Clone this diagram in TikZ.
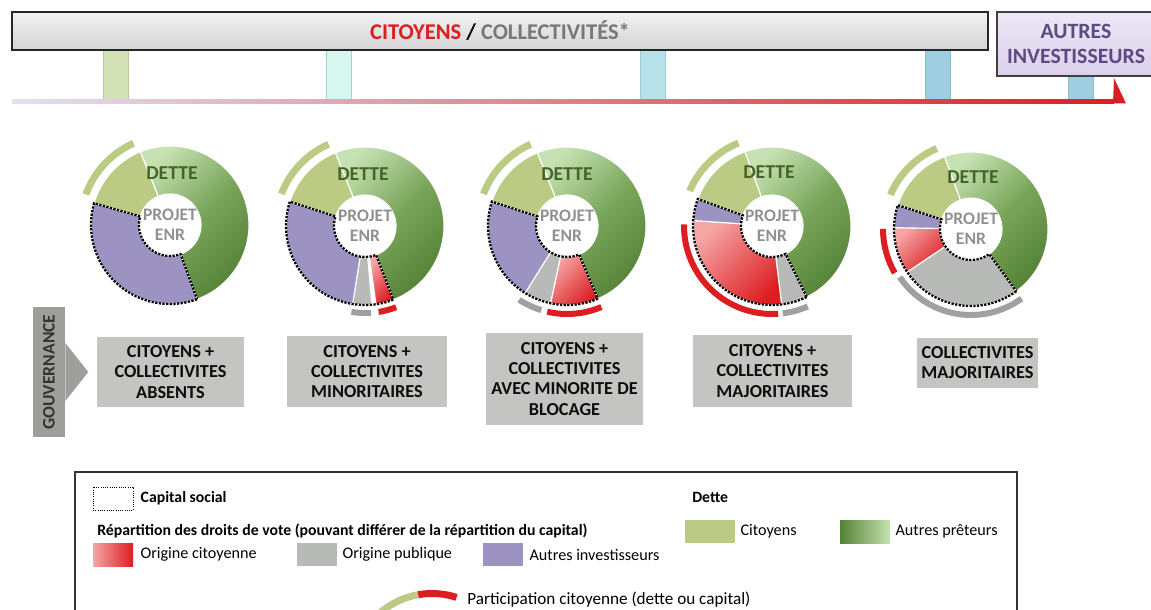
\documentclass[tikz,border=0pt]{standalone}
\usepackage{fontspec}
\setmainfont{Carlito}
\usetikzlibrary{calc,positioning}

\definecolor{debtcit}{RGB}{187,203,132}
\definecolor{debtlight}{RGB}{198,226,178}
\definecolor{debtmid}{RGB}{122,166,92}
\definecolor{debtdark}{RGB}{84,130,54}
\definecolor{invpurple}{RGB}{157,147,195}
\definecolor{pubgrey}{RGB}{183,186,183}
\definecolor{pubdark}{RGB}{160,160,160}
\definecolor{citlight}{RGB}{246,165,165}
\definecolor{citred}{RGB}{220,30,34}
\definecolor{boxgrey}{RGB}{196,197,194}
\definecolor{govgrey}{RGB}{158,158,156}
\definecolor{dettegreen}{RGB}{70,100,40}
\definecolor{projgrey}{RGB}{145,145,145}
\definecolor{invtext}{RGB}{92,74,130}
\definecolor{invfill}{RGB}{218,208,236}
\definecolor{colgrey}{RGB}{120,120,120}
\definecolor{lineleft}{RGB}{225,225,240}

\newcommand{\pxu}{0.025cm}
% ring segment: [style] centre, from, to, inner radius, outer radius
\newcommand{\ringpart}[6][]{%
  \path[#1] ($(#2)+(#3:#6)$) arc[start angle=#3, end angle=#4, radius=#6]
    -- ($(#2)+(#4:#5)$) arc[start angle=#4, end angle=#3, radius=#5] -- cycle;}

\begin{document}
\begin{tikzpicture}[x=0.025cm, y=-0.025cm,
    seg/.style={draw=white, line width=0.8pt},
    othershade/.style={top color=debtlight, bottom color=debtdark, middle color=debtmid, shading angle=45},
    citshade/.style={top color=citlight, bottom color=citred, shading angle=45},
    capline/.style={draw=black, line width=1.6pt, densely dotted},
    dettelabel/.style={font=\bfseries\fontsize{14}{16}\selectfont, text=dettegreen},
    projlabel/.style={font=\bfseries\fontsize{12.5}{14}\selectfont, text=projgrey, align=center, inner sep=0pt},
    govbox/.style={fill=boxgrey, align=center, inner sep=0pt, text=black!95, font=\bfseries\fontsize{13}{14.3}\selectfont},
    govbar/.style={fill=govgrey, text=black!80, inner sep=0pt, font=\bfseries\fontsize{12.5}{14}\selectfont, minimum width=130*\pxu, minimum height=32*\pxu},
    topbar/.style={draw=black!85, line width=1.4pt, top color=black!5, bottom color=black!17, inner sep=0pt, minimum width=976*\pxu, minimum height=38*\pxu, font=\bfseries\fontsize{16}{18}\selectfont},
    invbox/.style={draw=black!75, line width=1.4pt, top color=invfill!50!white, bottom color=invfill, text=invtext, align=center, inner sep=0pt, minimum width=158*\pxu, minimum height=64*\pxu, font=\bfseries\fontsize{15.5}{17.8}\selectfont},
    swatch/.style={minimum width=40*\pxu, minimum height=23*\pxu, inner sep=0pt},
    legtext/.style={inner sep=0pt, font=\fontsize{11.5}{13}\selectfont},
    legbold/.style={inner sep=0pt, font=\bfseries\fontsize{11.2}{13}\selectfont}
]
\useasboundingbox (0,0) rectangle (1151,610);
\clip (0,0) rectangle (1151,610);
\fill[white] (0,0) rectangle (1151,610);

% pillars between the actors and the line
\filldraw[fill={rgb,255:red,212;green,224;blue,182}, draw={rgb,255:red,186;green,202;blue,150}, line width=0.4pt] (103,50) rectangle (128,100);
\filldraw[fill={rgb,255:red,214;green,246;blue,240}, draw={rgb,255:red,166;green,212;blue,204}, line width=0.4pt] (326,50) rectangle (351,100);
\filldraw[fill={rgb,255:red,184;green,226;blue,234}, draw={rgb,255:red,160;green,206;blue,216}, line width=0.4pt] (640,50) rectangle (665,100);
\filldraw[fill={rgb,255:red,158;green,207;blue,224}, draw={rgb,255:red,136;green,188;blue,206}, line width=0.4pt] (925,50) rectangle (950,100);
\filldraw[fill={rgb,255:red,158;green,207;blue,224}, draw={rgb,255:red,136;green,188;blue,206}, line width=0.4pt] (1068,76) rectangle (1093,100);

% actors
\node[topbar] (actors) at (500,31) {{\color{citred}CITOYENS} / {\color{colgrey}COLLECTIVITÉS*}};
\node[invbox] (autres) at (1076,44) {AUTRES\\INVESTISSEURS};

% line with red end
\shade[left color=lineleft, right color=citred] (12,99.5) rectangle (1114,103.5);
\fill[citred] (1113,103.5) -- (1126,103.5) -- (1114,78) -- cycle;

% donut 1
\coordinate (c1) at (170,225);
\ringpart[seg, fill=debtcit]{c1}{196}{248}{31}{79}
\ringpart[seg, othershade]{c1}{248}{430}{31}{79}
\ringpart[seg, fill=invpurple]{c1}{70}{196}{31}{79}
\ringpart[capline]{c1}{70}{196}{31}{79}
\ringpart[fill=debtcit]{c1}{200}{246}{86}{93}
\node[dettelabel] (dette1) at ($(c1)+(2,-52)$) {DETTE};
\node[projlabel] (proj1) at (c1) {PROJET\\ENR};

% donut 2
\coordinate (c2) at (365,226);
\ringpart[seg, fill=debtcit]{c2}{198}{248}{31}{79}
\ringpart[seg, othershade]{c2}{248}{429}{31}{79}
\ringpart[seg, citshade]{c2}{69}{82}{31}{79}
\ringpart[seg, fill=pubgrey]{c2}{85}{99}{31}{79}
\ringpart[seg, fill=invpurple]{c2}{99}{198}{31}{79}
\ringpart[capline]{c2}{69}{198}{31}{79}
\ringpart[fill=debtcit]{c2}{201}{246}{86}{93}
\ringpart[fill=citred]{c2}{69}{81}{84}{90}
\ringpart[fill=pubdark]{c2}{86}{99}{84}{90}
\node[dettelabel] (dette2) at ($(c2)+(-2,-52)$) {DETTE};
\node[projlabel] (proj2) at (c2) {PROJET\\ENR};

% donut 3
\coordinate (c3) at (567,226);
\ringpart[seg, fill=debtcit]{c3}{198}{248}{31}{79}
\ringpart[seg, othershade]{c3}{248}{427}{31}{79}
\ringpart[seg, citshade]{c3}{67}{102}{31}{79}
\ringpart[seg, fill=pubgrey]{c3}{102}{122}{31}{79}
\ringpart[seg, fill=invpurple]{c3}{122}{198}{31}{79}
\ringpart[capline]{c3}{67}{198}{31}{79}
\ringpart[fill=debtcit]{c3}{201}{246}{86}{93}
\ringpart[fill=citred]{c3}{67}{103}{85}{91}
\ringpart[fill=pubdark]{c3}{107}{123}{85}{91}
\node[dettelabel] (dette3) at ($(c3)+(0,-52)$) {DETTE};
\node[projlabel] (proj3) at (c3) {PROJET\\ENR};

% donut 4
\coordinate (c4) at (772,226);
\ringpart[seg, fill=debtcit]{c4}{200}{250}{31}{79}
\ringpart[seg, othershade]{c4}{250}{424}{31}{79}
\ringpart[seg, fill=pubgrey]{c4}{64}{83}{31}{79}
\ringpart[seg, citshade]{c4}{83}{184}{31}{79}
\ringpart[seg, fill=invpurple]{c4}{184}{200}{31}{79}
\ringpart[capline]{c4}{64}{200}{31}{79}
\ringpart[fill=debtcit]{c4}{203}{248}{86}{93}
\ringpart[fill=pubdark]{c4}{66}{83}{85}{91}
\ringpart[fill=citred]{c4}{86}{181}{85}{91}
\node[dettelabel] (dette4) at ($(c4)+(-3,-54)$) {DETTE};
\node[projlabel] (proj4) at (c4) {PROJET\\ENR};

% donut 5
\coordinate (c5) at (971,229);
\ringpart[seg, fill=debtcit]{c5}{198}{250}{31}{77}
\ringpart[seg, othershade]{c5}{250}{414}{31}{77}
\ringpart[seg, fill=pubgrey]{c5}{54}{146}{31}{77}
\ringpart[seg, citshade]{c5}{146}{181}{31}{77}
\ringpart[seg, fill=invpurple]{c5}{181}{198}{31}{77}
\ringpart[capline]{c5}{54}{198}{31}{77}
\ringpart[fill=debtcit]{c5}{203}{247}{84}{91}
\ringpart[fill=pubdark]{c5}{54}{146}{83}{89}
\ringpart[fill=citred]{c5}{150}{180}{85}{91}
\node[dettelabel] (dette5) at ($(c5)+(2,-52)$) {DETTE};
\node[projlabel] (proj5) at (c5) {PROJET\\ENR};

% governance
\node[govbar, rotate=90] (govtitle) at (49,372) {GOUVERNANCE};
\fill[govgrey] ($(govtitle.south)+(0,-29)$) -- ($(govtitle.south)+(23,0)$) -- ($(govtitle.south)+(0,29)$) -- cycle;
\node[govbox, minimum width=147*\pxu, minimum height=70*\pxu] (gov1) at (170.5,372) {CITOYENS +\\COLLECTIVITES\\ABSENTS};
\node[govbox, minimum width=160*\pxu, minimum height=71*\pxu] (gov2) at (367,371.5) {CITOYENS +\\COLLECTIVITES\\MINORITAIRES};
\node[govbox, minimum width=157*\pxu, minimum height=92*\pxu] (gov3) at (564.5,379) {CITOYENS +\\COLLECTIVITES\\AVEC MINORITE DE\\BLOCAGE};
\node[govbox, minimum width=159*\pxu, minimum height=72*\pxu] (gov4) at (772.5,371) {CITOYENS +\\COLLECTIVITES\\MAJORITAIRES};
\node[govbox, minimum width=121*\pxu, minimum height=50*\pxu] (gov5) at (977.5,363) {COLLECTIVITES\\MAJORITAIRES};

% legend
\draw[black!80, line width=1pt] (75,472) rectangle (1017,640);
\node[swatch, draw=black, densely dotted, line width=0.6pt] (capsw) at (113,498.5) {};
\node[legbold, right=0.175cm of capsw] (captxt) {Capital social};
\node[legbold, anchor=west] (votetitle) at (97,531) {Répartition des droits de vote (pouvant différer de la répartition du capital)};
\node[swatch, left color=citlight, right color=citred] (citsw) at (113,554.5) {};
\node[legtext, right=0.175cm of citsw] (cittxt) {Origine citoyenne};
\node[swatch, fill=pubgrey] (pubsw) at (317,554.5) {};
\node[legtext, right=0.125cm of pubsw] (pubtxt) {Origine publique};
\node[swatch, fill=invpurple] (invsw) at (503,554.5) {};
\node[legtext, right=0.15cm of invsw] (invtxt) {Autres investisseurs};
\node[legbold, anchor=west] (dettetitle) at (692,497) {Dette};
\node[swatch, minimum width=50*\pxu, fill=debtcit] (debtsw) at (710,531.5) {};
\node[legtext, right=0.125cm of debtsw] (debttxt) {Citoyens};
\node[swatch, minimum width=50*\pxu, left color=debtdark, right color=debtlight] (lendsw) at (865,531.5) {};
\node[legtext, right=0.125cm of lendsw] (lendtxt) {Autres prêteurs};
\coordinate (arcc) at (432,673);
\ringpart[fill=debtcit]{arcc}{229}{260}{76}{83}
\ringpart[fill=citred]{arcc}{260}{288}{76}{83}
\node[legtext, font=\fontsize{12.2}{14}\selectfont, anchor=west] (parttxt) at (467,600) {Participation citoyenne (dette ou capital)};
\end{tikzpicture}
\end{document}
